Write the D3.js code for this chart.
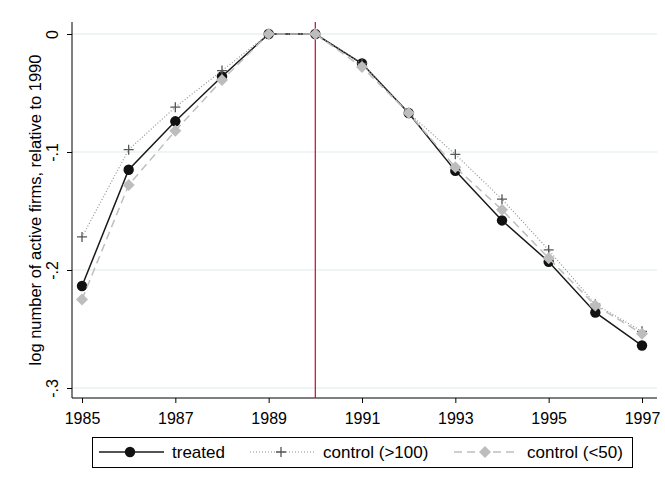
<!DOCTYPE html>
<html><head><meta charset="utf-8">
<script src="https://cdn.jsdelivr.net/npm/d3@7"></script>
<style>body{margin:0;background:#fff}svg{display:block;font-family:"Liberation Sans",Arial,sans-serif}</style>
</head><body><svg id="c" width="665" height="488"></svg>
<script>
const years = [1985,1986,1987,1988,1989,1990,1991,1992,1993,1994,1995,1996,1997];
const treated = [-0.2136,-0.115,-0.074,-0.036,0,0,-0.025,-0.067,-0.116,-0.158,-0.193,-0.236,-0.264];
const controlLarge = [-0.172,-0.098,-0.062,-0.031,0,0,-0.025,-0.067,-0.102,-0.140,-0.183,-0.229,-0.252];
const controlSmall = [-0.225,-0.128,-0.082,-0.039,0,0,-0.028,-0.067,-0.113,-0.149,-0.190,-0.230,-0.254];
const xTicks = [1985,1987,1989,1991,1993,1995,1997];
const yTicks = [0,-0.1,-0.2,-0.3];
const yTickLabels = ["0","-.1","-.2","-.3"];
const seriesNames = ["treated","control (>100)","control (<50)"];
const eventYear = 1990;
const yTitle = "log number of active firms, relative to 1990";

const svg = d3.select("#c");
const x = d3.scaleLinear().domain([1985,1997]).range([82,642]);
const y = d3.scaleLinear().domain([0,-0.3]).range([34,388]);
const pL = 72, pR = 657, pT = 22, pB = 398;

// grid
svg.append("g").selectAll("line").data(yTicks).join("line")
  .attr("x1",pL).attr("x2",pR).attr("y1",d=>y(d)).attr("y2",d=>y(d))
  .attr("stroke","#eaf2f3").attr("stroke-width",1.3);

// axes
const ya = svg.append("g").attr("transform",`translate(${pL},0)`)
  .call(d3.axisLeft(y).tickValues(yTicks).tickSize(5).tickFormat((d,i)=>yTickLabels[i]));
ya.select(".domain").attr("d",`M0,${pT}V${pB}`).attr("stroke","#000");
ya.selectAll(".tick line").attr("stroke","#000");
ya.selectAll(".tick text").attr("transform","rotate(-90)").attr("x",0).attr("y",-14.5)
  .attr("dy","0").attr("text-anchor","middle").style("font-size","16px").attr("fill","#000");

const xa = svg.append("g").attr("transform",`translate(0,${pB})`)
  .call(d3.axisBottom(x).tickValues(xTicks).tickSize(5).tickFormat(d3.format("d")));
xa.select(".domain").attr("d",`M${pL},0H${pR}`).attr("stroke","#000");
xa.selectAll(".tick line").attr("stroke","#000");
xa.selectAll(".tick text").attr("y",15).style("font-size","16px").attr("fill","#000");

svg.append("text").attr("transform",`translate(41,210) rotate(-90)`)
  .attr("text-anchor","middle").style("font-size","16.5px").text(yTitle);

// red event line
svg.append("line").attr("x1",x(eventYear)).attr("x2",x(eventYear)).attr("y1",pT).attr("y2",pB)
  .attr("stroke","#cc1a3f").attr("stroke-width",1.3);

const line = d3.line().x((d,i)=>x(years[i])).y(d=>y(d));
const styles = [
  {data:treated, stroke:"#1a1a1a", dash:null, w:1.5},
  {data:controlLarge, stroke:"#8c8c8c", dash:"1,2", w:1.1},
  {data:controlSmall, stroke:"#bfbfbf", dash:"8,5", w:1.5}
];
const diamond = d3.symbol().type(d3.symbolSquare).size(72)();
function marker(g,k,cx,cy){
  if(k===0) g.append("circle").attr("cx",cx).attr("cy",cy).attr("r",5.2).attr("fill","#111");
  else if(k===1) g.append("path").attr("d",`M${cx-5},${cy}H${cx+5}M${cx},${cy-5}V${cy+5}`).attr("stroke","#555").attr("stroke-width",1.3);
  else g.append("path").attr("d",diamond).attr("transform",`translate(${cx},${cy}) rotate(45)`).attr("fill","#bdbdbd");
}
styles.forEach((s,k)=>{
  const g = svg.append("g");
  g.append("path").attr("d",line(s.data)).attr("fill","none").attr("stroke",s.stroke)
    .attr("stroke-width",s.w).attr("stroke-dasharray",s.dash);
  s.data.forEach((v,i)=>marker(g,k,x(years[i]),y(v)));
});

// legend
const lg = svg.append("g");
lg.append("rect").attr("x",92.5).attr("y",437.5).attr("width",540).attr("height",30)
  .attr("fill","#fff").attr("stroke","#000").attr("stroke-width",1);
const lx = [99,250,454];
styles.forEach((s,k)=>{
  const g = lg.append("g");
  g.append("line").attr("x1",lx[k]).attr("x2",lx[k]+65).attr("y1",452).attr("y2",452)
    .attr("stroke",s.stroke).attr("stroke-width",s.w).attr("stroke-dasharray",s.dash);
  marker(g,k,lx[k]+31,452);
  g.append("text").attr("x",lx[k]+73).attr("y",458).style("font-size","17px").text(seriesNames[k]);
});
</script></body></html>
